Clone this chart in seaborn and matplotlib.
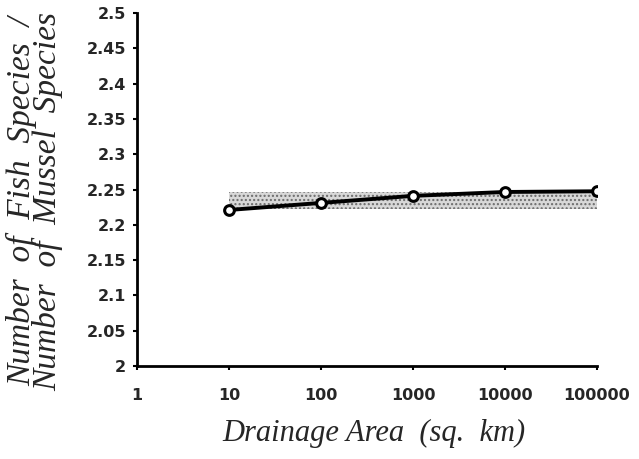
import matplotlib
matplotlib.use("Agg")
import matplotlib.pyplot as plt
import seaborn as sns
import pandas as pd

area = [10, 100, 1000, 10000, 100000]
ratio = [2.221, 2.231, 2.241, 2.2465, 2.2475]
band_x = [10, 100000]
band_low = [2.222, 2.222]
band_high = [2.247, 2.247]
xticks = [1, 10, 100, 1000, 10000, 100000]
yticks = [2, 2.05, 2.1, 2.15, 2.2, 2.25, 2.3, 2.35, 2.4, 2.45, 2.5]
ytick_labels = ["2", "2.05", "2.1", "2.15", "2.2", "2.25", "2.3", "2.35", "2.4", "2.45", "2.5"]

sns.set_style("ticks")
plt.rcParams['font.family'] = ['DejaVu Sans']

fig = plt.figure(figsize=(6.39, 4.59), dpi=100)
ax = fig.add_axes([137/639, 1-366/459, (597-137)/639, (366-13)/459])

ax.fill_between(band_x, band_low, band_high, facecolor="#d8d8d8", edgecolor="#6a6a6a",
                hatch="....", linewidth=0, zorder=1)

df = pd.DataFrame({"area": area, "ratio": ratio})
sns.lineplot(data=df, x="area", y="ratio", ax=ax, color="black", linewidth=2.8,
             marker="o", markersize=7, markerfacecolor="white", markeredgecolor="black",
             markeredgewidth=2.2, zorder=3)

ax.set_xscale("log")
ax.set_xlim(1, 100000)
ax.set_ylim(2, 2.5)
ax.set_xticks(xticks)
ax.set_xticklabels([str(v) for v in xticks])
ax.minorticks_off()
ax.set_yticks(yticks)
ax.set_yticklabels(ytick_labels)
for lab in ax.get_xticklabels() + ax.get_yticklabels():
    lab.set_fontweight("bold")
    lab.set_fontsize(11.5)
ax.tick_params(axis="both", direction="out", length=3, width=1.5, color="black", pad=5)
ax.tick_params(axis="x", pad=13)
for s in ["top", "right"]:
    ax.spines[s].set_visible(False)
for s in ["left", "bottom"]:
    ax.spines[s].set_linewidth(2)
    ax.spines[s].set_color("black")

ax.set_xlabel("Drainage Area  (sq.  km)", fontsize=22, fontstyle="italic",
              family="Liberation Serif")
ax.xaxis.set_label_coords(0.515, -0.15)
ax.set_ylabel("Number  of  Fish  Species  /\nNumber  of  Mussel  Species", fontsize=24,
              fontstyle="italic", family="Liberation Serif", linespacing=0.8)
ax.yaxis.set_label_coords(-0.16, 0.467)

fig.savefig("out.png", dpi=100)
